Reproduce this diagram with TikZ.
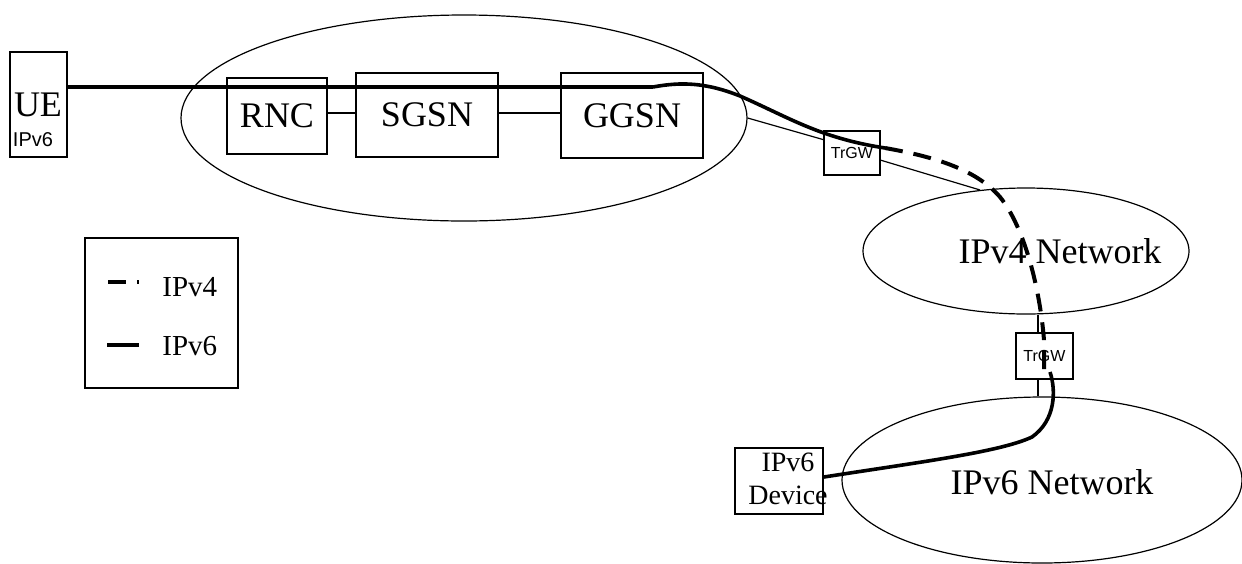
\documentclass[tikz,border=0pt]{standalone}
\usepackage{fontspec}
\setmainfont{Liberation Serif}
\setsansfont{Liberation Sans}
\usetikzlibrary{shapes.geometric}

\begin{document}
\begin{tikzpicture}[x=0.5pt, y=-0.5pt,
    elem/.style={draw, line width=0.6pt, inner sep=0pt},
    netoval/.style={draw, ellipse, line width=0.6pt, inner sep=0pt},
    big/.style={font=\fontsize{18}{21}\selectfont},
    gw/.style={elem, minimum width=28pt, minimum height=22pt, font=\sffamily\fontsize{8}{9}\selectfont},
    link/.style={line width=0.6pt},
    vsix/.style={line width=2.4pt},
    vfour/.style={line width=2pt, dash pattern=on 9pt off 5.5pt}]
    \useasboundingbox (0,0) rectangle (1242,563);

    % core network
    \node[netoval, minimum width=283pt, minimum height=103pt] (core) at (464,118) {};
    \node[elem, big, minimum width=50pt, minimum height=38pt] (rnc) at (277,116) {RNC};
    \node[elem, big, minimum width=71pt, minimum height=42pt] (sgsn) at (427,115) {SGSN};
    \node[elem, big, minimum width=71pt, minimum height=42.5pt] (ggsn) at (632,115.5) {GGSN};

    % UE
    \node[elem, minimum width=28.5pt, minimum height=52.5pt] (ue) at (38.5,104.5) {};
    \node[big] (uename) at (38,105) {UE};
    \node[font=\sffamily\fontsize{10}{12}\selectfont] (ueaddr) at (33,140) {IPv6};

    % networks
    \node[netoval, minimum width=163pt, minimum height=63pt] (vfournet) at (1026,251) {};
    \node[big] (vfourname) at (1060,251) {IPv4 Network};
    \node[netoval, minimum width=200pt, minimum height=83pt] (vsixnet) at (1042,480) {};
    \node[big] (vsixname) at (1052,482) {IPv6 Network};

    \node[gw] (trgwa) at (852,153) {TrGW};
    \node[gw, minimum width=28.5pt, minimum height=23pt] (trgwb) at (1044.5,356) {TrGW};

    \node[elem, minimum width=44pt, minimum height=33pt] (dev) at (779,481) {};
    \node[align=center, font=\fontsize{14}{16.5}\selectfont] (devname) at (788,479) {IPv6\\Device};

    % legend
    \node[elem, minimum width=76.5pt, minimum height=75pt] (key) at (161.5,313) {};
    \node[anchor=west, inner sep=0pt, font=\fontsize{14.5}{17}\selectfont] (keyfour) at (162,287) {IPv4};
    \node[anchor=west, inner sep=0pt, font=\fontsize{14.5}{17}\selectfont] (keysix) at (162,346) {IPv6};
    \coordinate (keyfoura) at (108,282);
    \coordinate (keyfourb) at (139,282);
    \coordinate (keysixa) at (107,345);
    \coordinate (keysixb) at (139,345);
    \draw[vfour] (keyfoura) -- (keyfourb);
    \draw[vsix, line width=2pt] (keysixa) -- (keysixb);

    \draw[link] ([yshift=1.5pt]rnc.east) -- ([yshift=1.5pt]rnc.east -| sgsn.west);
    \draw[link] ([yshift=1pt]sgsn.east) -- ([yshift=1pt]sgsn.east -| ggsn.west);
    \draw[link] (core.east) -- (trgwa.155);
    \draw[link] (trgwa.-14) -- (vfournet.127);
    \draw[link] ([xshift=-3.25pt]trgwb.north) -- ([xshift=-3.25pt]trgwb.north |- vfournet.south);
    \draw[link] ([xshift=-3.25pt]trgwb.south) -- ([xshift=-3.25pt]trgwb.south |- vsixnet.north);

    % user plane
    \coordinate (bend) at (653,87);
    \coordinate (vfourin) at (885,148);
    \coordinate (vfourout) at (1044,372);
    \coordinate (vsixin) at (1050,372);
    \coordinate (devport) at (824,477);
    \draw[vsix] (ue.east |- bend) -- (bend);
    \draw[vsix, line width=1.8pt] (bend) .. controls (680,82) and (705,82) .. (740,96)
        .. controls (790,118) and (820,138) .. (vfourin);
    \draw[vfour] (vfourin) .. controls (930,156) and (975,168) .. (1000,197)
        .. controls (1025,228) and (1040,290) .. (1044,340) -- (vfourout);
    \draw[vsix, line width=1.8pt] (vsixin) .. controls (1056,390) and (1056,420) .. (1032,437)
        .. controls (1000,452) and (920,462) .. (devport);
\end{tikzpicture}
\end{document}
